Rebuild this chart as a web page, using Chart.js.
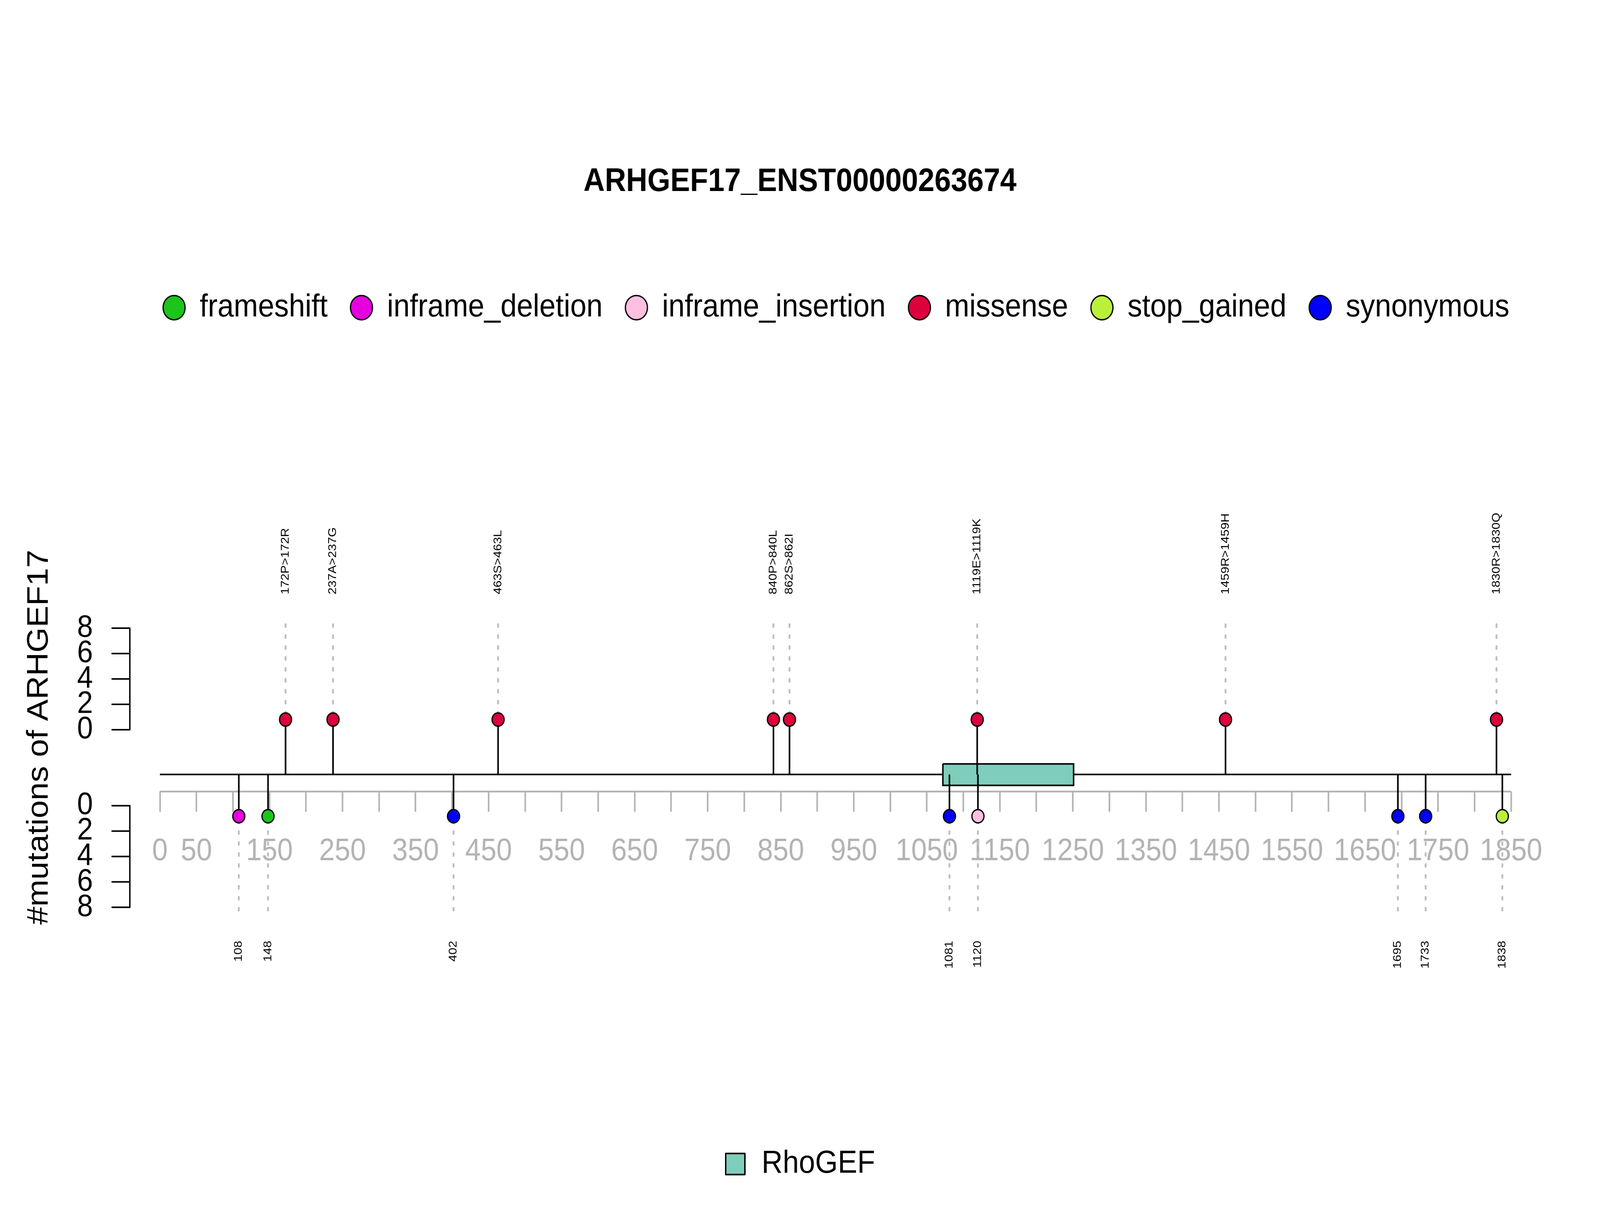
<!DOCTYPE html>
<html lang="en">
<head>
    <meta charset="UTF-8">
    <title>ARHGEF17_ENST00000263674</title>
    <script src="https://cdn.jsdelivr.net/npm/chart.js"></script>
    <style>
        html, body {
            margin: 0;
            padding: 0;
            width: 100%;
            height: 100%;
            overflow: hidden;
            background: #ffffff;
        }

        canvas {
            display: block;
        }
    </style>
</head>
<body>
<canvas id="lollipop" width="4500" height="3100" style="width: 100vw; height: 100vh;"></canvas>

<script>
    const geneName = 'ARHGEF17';
    const transcriptId = 'ENST00000263674';

    const mutationTypes = ['frameshift', 'inframe_deletion', 'inframe_insertion', 'missense', 'stop_gained', 'synonymous'];
    const typeColors = ['#1cc41c', '#e600e0', '#ffc0e0', '#dc003c', '#bbf03a', '#0000ff'];

    // mutations drawn above the protein
    const upperPositions = [172, 237, 463, 840, 862, 1119, 1459, 1830];
    const upperLabels = ['172P>172R', '237A>237G', '463S>463L', '840P>840L', '862S>862I', '1119E>1119K', '1459R>1459H', '1830R>1830Q'];
    const upperTypes = ['missense', 'missense', 'missense', 'missense', 'missense', 'missense', 'missense', 'missense'];
    const upperCounts = [0.8, 0.8, 0.8, 0.8, 0.8, 0.8, 0.8, 0.8];

    // mutations drawn below the protein
    const lowerPositions = [108, 148, 402, 1081, 1120, 1695, 1733, 1838];
    const lowerLabels = ['108', '148', '402', '1081', '1120', '1695', '1733', '1838'];
    const lowerTypes = ['inframe_deletion', 'frameshift', 'synonymous', 'synonymous', 'inframe_insertion', 'synonymous', 'synonymous', 'stop_gained'];
    const lowerCounts = [0.83, 0.83, 0.83, 0.83, 0.83, 0.83, 0.83, 0.83];

    const domainNames = ['RhoGEF'];
    const domainStarts = [1072];
    const domainEnds = [1251];
    const domainColors = ['#7fcdbb'];
    const proteinLength = 1850;

    const axisTicks = [0, 50, 100, 150, 200, 250, 300, 350, 400, 450, 500, 550, 600, 650, 700, 750, 800, 850, 900, 950,
        1000, 1050, 1100, 1150, 1200, 1250, 1300, 1350, 1400, 1450, 1500, 1550, 1600, 1650, 1700, 1750, 1800, 1850];
    const axisLabelTicks = [0, 50, 150, 250, 350, 450, 550, 650, 750, 850, 950, 1050, 1150, 1250, 1350, 1450, 1550, 1650, 1750, 1850];
    const countTicks = [0, 2, 4, 6, 8];

    // layout of the track, in scale units (y: one unit = one mutation)
    const X_MIN = -47.6, X_MAX = 1899.7;
    const Y_MIN = -37.27, Y_MAX = 31.67;
    const BACKBONE_Y = -3.52;
    const RULER_Y = -4.87;
    const LOWER_ZERO = -5.98;
    const DOMAIN_TOP = -2.69, DOMAIN_BOTTOM = -4.38;
    const UPPER_GUIDE_END = 8.3, LOWER_GUIDE_END = -14.23;
    const UPPER_LABEL_Y = 10.66, LOWER_LABEL_Y = -16.62;
    const COUNT_AXIS_X = -41.2;
    const Y_TITLE_X = -153.7, Y_TITLE_Y = -0.59;
    const DOMAIN_LEGEND_Y = -34.2;

    const FONT = '"Liberation Sans", Arial, Helvetica, sans-serif';
    Chart.defaults.font.family = FONT;
    Chart.defaults.color = '#000000';

    const upY = c => c;
    const downY = c => LOWER_ZERO - c;

    function stickPoints(positions, counts, toY) {
        const pts = [];
        positions.forEach((p, i) => {
            pts.push({x: p, y: BACKBONE_Y}, {x: p, y: toY(counts[i])}, {x: p, y: null});
        });
        return pts;
    }

    function guidePoints(positions, counts, toY, end) {
        const pts = [];
        positions.forEach((p, i) => {
            pts.push({x: p, y: end}, {x: p, y: toY(counts[i])}, {x: p, y: null});
        });
        return pts;
    }

    const circleSets = mutationTypes.map((type, k) => {
        const pts = [];
        upperPositions.forEach((p, i) => {
            if (upperTypes[i] === type) pts.push({x: p, y: upY(upperCounts[i])});
        });
        lowerPositions.forEach((p, i) => {
            if (lowerTypes[i] === type) pts.push({x: p, y: downY(lowerCounts[i])});
        });
        return {
            type: 'scatter',
            label: type,
            data: pts,
            backgroundColor: typeColors[k],
            borderColor: '#000000',
            borderWidth: 3.5,
            pointRadius: 17,
            pointStyle: 'circle',
            order: 0
        };
    });

    const lineBase = {type: 'line', pointRadius: 0, tension: 0, fill: false, spanGaps: false};

    const datasets = circleSets.concat([
        Object.assign({}, lineBase, {
            label: 'sticks',
            data: stickPoints(upperPositions, upperCounts, upY).concat(stickPoints(lowerPositions, lowerCounts, downY)),
            borderColor: '#000000',
            borderWidth: 4.5,
            order: 1
        }),
        Object.assign({}, lineBase, {
            label: domainNames[0],
            data: [
                {x: domainStarts[0], y: DOMAIN_TOP}, {x: domainEnds[0], y: DOMAIN_TOP},
                {x: domainEnds[0], y: DOMAIN_BOTTOM}, {x: domainStarts[0], y: DOMAIN_BOTTOM},
                {x: domainStarts[0], y: DOMAIN_TOP}
            ],
            borderColor: '#000000',
            borderWidth: 4,
            backgroundColor: domainColors[0],
            fill: 'shape',
            order: 2
        }),
        Object.assign({}, lineBase, {
            label: 'guides',
            data: guidePoints(upperPositions, upperCounts, upY, UPPER_GUIDE_END)
                .concat(guidePoints(lowerPositions, lowerCounts, downY, LOWER_GUIDE_END)),
            borderColor: '#bebebe',
            borderWidth: 5.3,
            borderDash: [6.5, 21.5],
            borderCapStyle: 'round',
            order: 3
        }),
        Object.assign({}, lineBase, {
            label: 'ruler',
            data: [{x: 0, y: RULER_Y}, {x: proteinLength, y: RULER_Y}],
            borderColor: '#b3b3b3',
            borderWidth: 4.5,
            order: 4
        }),
        Object.assign({}, lineBase, {
            label: 'backbone',
            data: [{x: 0, y: BACKBONE_Y}, {x: proteinLength, y: BACKBONE_Y}],
            borderColor: '#000000',
            borderWidth: 4,
            order: 5
        })
    ]);

    // count axes, rotated labels, y title and the domain key
    const trackDecor = {
        id: 'trackDecor',
        afterDraw(chart) {
            const ctx = chart.ctx;
            const xs = chart.scales.x;
            const ys = chart.scales.y;
            ctx.save();

            const axisX = xs.getPixelForValue(COUNT_AXIS_X);
            ctx.strokeStyle = '#000000';
            ctx.fillStyle = '#000000';
            ctx.lineWidth = 4;
            ctx.lineCap = 'round';
            ctx.font = '80px ' + FONT;
            ctx.textAlign = 'right';
            ctx.textBaseline = 'middle';
            [upY, downY].forEach(toY => {
                const y0 = ys.getPixelForValue(toY(countTicks[0]));
                const y1 = ys.getPixelForValue(toY(countTicks[countTicks.length - 1]));
                ctx.beginPath();
                ctx.moveTo(axisX, y0);
                ctx.lineTo(axisX, y1);
                ctx.stroke();
                countTicks.forEach(c => {
                    const py = ys.getPixelForValue(toY(c));
                    ctx.beginPath();
                    ctx.moveTo(axisX - 50, py);
                    ctx.lineTo(axisX, py);
                    ctx.stroke();
                    ctx.fillText(String(c), axisX - 104, py);
                });
            });

            const rotated = (text, px, py, align) => {
                ctx.save();
                ctx.translate(px, py);
                ctx.rotate(-Math.PI / 2);
                ctx.textAlign = align;
                ctx.fillText(text, 0, 0);
                ctx.restore();
            };

            ctx.font = '32px ' + FONT;
            ctx.textBaseline = 'middle';
            upperPositions.forEach((p, i) => {
                rotated(upperLabels[i], xs.getPixelForValue(p), ys.getPixelForValue(UPPER_LABEL_Y), 'left');
            });
            lowerPositions.forEach((p, i) => {
                rotated(lowerLabels[i], xs.getPixelForValue(p), ys.getPixelForValue(LOWER_LABEL_Y), 'right');
            });

            ctx.font = '83px ' + FONT;
            ctx.textBaseline = 'alphabetic';
            rotated('#mutations of ' + geneName, xs.getPixelForValue(Y_TITLE_X), ys.getPixelForValue(Y_TITLE_Y), 'center');

            ctx.font = '82px ' + FONT;
            const textW = ctx.measureText(domainNames[0]).width;
            const box = 54, gap = 45;
            const total = box + 4 + gap + textW;
            const left = chart.width / 2 - total / 2;
            const cy = ys.getPixelForValue(DOMAIN_LEGEND_Y);
            ctx.fillStyle = domainColors[0];
            ctx.fillRect(left + 2, cy - box / 2, box, box);
            ctx.lineWidth = 4;
            ctx.lineJoin = 'round';
            ctx.strokeRect(left + 2, cy - box / 2, box, box);
            ctx.fillStyle = '#000000';
            ctx.textAlign = 'left';
            ctx.textBaseline = 'middle';
            ctx.fillText(domainNames[0], left + box + 4 + gap, cy);

            ctx.restore();
        }
    };

    function init() {
        const ctx = document.getElementById('lollipop').getContext('2d');
        new Chart(ctx, {
            type: 'scatter',
            data: {datasets: datasets},
            options: {
                responsive: false,
                animation: false,
                devicePixelRatio: 1,
                events: [],
                layout: {padding: 0},
                plugins: {
                    title: {
                        display: true,
                        text: geneName + '_' + transcriptId,
                        font: {size: 83, weight: 'bold'},
                        color: '#000000',
                        padding: {top: 416, bottom: 167}
                    },
                    legend: {
                        display: true,
                        position: 'top',
                        fullSize: false,
                        align: 'center',
                        labels: {
                            usePointStyle: true,
                            pointStyleWidth: 62,
                            boxHeight: 44,
                            padding: 64,
                            color: '#000000',
                            font: {size: 82},
                            filter: item => mutationTypes.includes(item.text)
                        }
                    },
                    tooltip: {enabled: false}
                },
                scales: {
                    x: {
                        type: 'linear',
                        min: X_MIN,
                        max: X_MAX,
                        position: {y: RULER_Y},
                        border: {display: false},
                        grid: {
                            display: true,
                            drawOnChartArea: false,
                            drawTicks: true,
                            tickLength: 52,
                            color: '#b3b3b3',
                            lineWidth: 4.5
                        },
                        ticks: {
                            autoSkip: false,
                            maxRotation: 0,
                            minRotation: 0,
                            padding: 54,
                            color: '#b3b3b3',
                            font: {size: 79},
                            callback: v => axisLabelTicks.includes(v) ? String(v) : ''
                        },
                        afterBuildTicks: axis => {
                            axis.ticks = axisTicks.map(v => ({value: v}));
                        }
                    },
                    y: {
                        type: 'linear',
                        position: 'left',
                        min: Y_MIN,
                        max: Y_MAX,
                        ticks: {display: false},
                        grid: {display: false},
                        border: {display: false},
                        afterFit: s => { s.width = 352; }
                    },
                    yRight: {
                        type: 'linear',
                        position: 'right',
                        min: 0,
                        max: 1,
                        ticks: {display: false},
                        grid: {display: false},
                        border: {display: false},
                        afterFit: s => { s.width = 148; }
                    }
                }
            },
            plugins: [trackDecor]
        });
    }

    document.addEventListener('DOMContentLoaded', init);
</script>

</body>
</html>
